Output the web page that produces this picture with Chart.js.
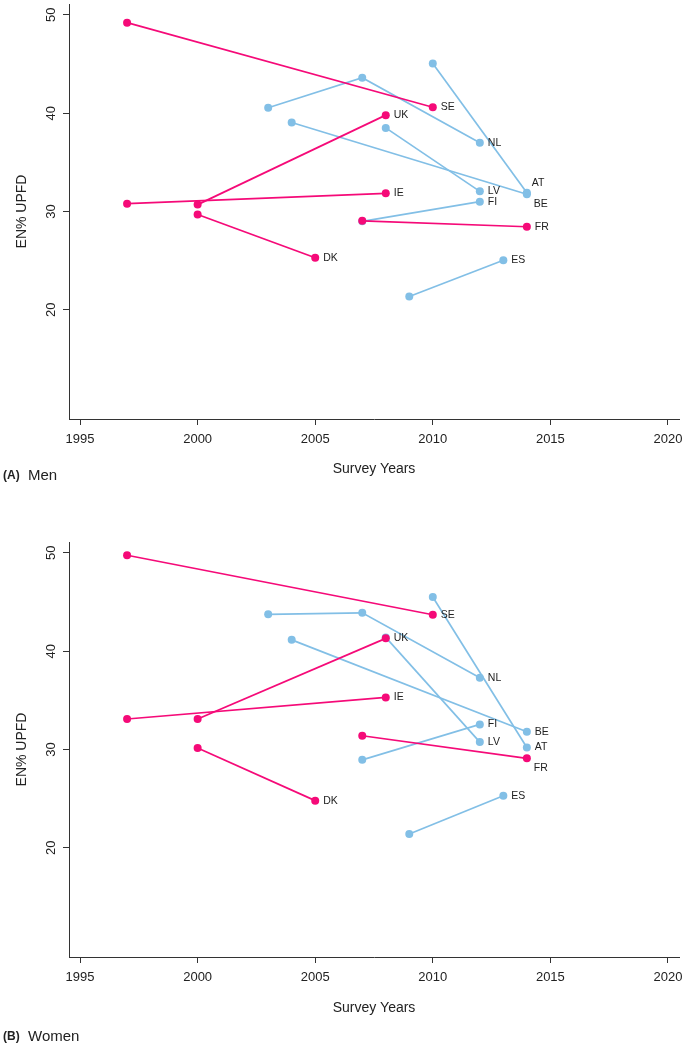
<!DOCTYPE html>
<html>
<head>
<meta charset="utf-8">
<script src="https://cdn.jsdelivr.net/npm/chart.js@4.4.1/dist/chart.umd.min.js"></script>
<style>
  body { margin: 0; background: #fff; width: 685px; height: 1045px; overflow: hidden; }
  .panel { position: absolute; left: 0; width: 685px; }
</style>
</head>
<body>
<div class="panel" style="top:0;height:520px"><canvas id="men"></canvas></div>
<div class="panel" style="top:520px;height:525px"><canvas id="women"></canvas></div>
<script>
// datos
const countries = ['SE', 'UK', 'IE', 'DK', 'FR', 'NL', 'AT', 'BE', 'LV', 'FI', 'ES'];
const pinkCountries = ['SE', 'UK', 'IE', 'DK', 'FR'];
const surveyYears = [
  [1997, 2010], [2000, 2008], [1997, 2008], [2000, 2005], [2007, 2014],
  [2003, 2007, 2012], [2010, 2014], [2004, 2014], [2008, 2012], [2007, 2012], [2009, 2013]
];
const menValues = [
  [49.2, 40.6], [30.7, 39.8], [30.8, 31.85], [29.7, 25.3], [29.05, 28.45],
  [40.55, 43.6, 37.0], [45.05, 31.9], [39.05, 31.75], [38.5, 32.05], [29.0, 31.0], [21.35, 25.05]
];
const womenValues = [
  [49.75, 43.7], [33.1, 41.3], [33.1, 35.3], [30.15, 24.8], [31.4, 29.1],
  [43.75, 43.9, 37.3], [45.5, 30.2], [41.15, 31.8], [41.4, 30.75], [28.95, 32.55], [21.4, 25.3]
];
const xTicks = [1995, 2000, 2005, 2010, 2015, 2020];
const yTicks = [20, 30, 40, 50];

const PINK = '#F50A78';
const BLUE = '#82BFE6';
const AXIS = '#333333';
const TEXT = '#222222';
const FONT = '"Liberation Sans", Arial, sans-serif';

// posicion de etiquetas que no van a la derecha
const menLabelPos = { AT: 'above', BE: 'below' };
const womenLabelPos = { FR: 'below' };

function buildDatasets(values) {
  return countries.map(function (c, i) {
    const color = pinkCountries.includes(c) ? PINK : BLUE;
    return {
      label: c,
      data: surveyYears[i].map(function (yr, j) { return { x: yr, y: values[i][j] }; }),
      borderColor: color,
      backgroundColor: color,
      borderWidth: 1.7,
      pointRadius: 4,
      pointBorderWidth: 0,
      pointBackgroundColor: color,
      tension: 0
    };
  });
}

const textPlugin = {
  id: 'texts',
  afterDatasetsDraw(chart, args, opts) {
    const ctx = chart.ctx;
    const a = chart.chartArea;
    const y = chart.scales.y;
    ctx.save();
    ctx.fillStyle = TEXT;

    // etiquetas del eje y, giradas
    ctx.font = '13px ' + FONT;
    ctx.textAlign = 'center';
    ctx.textBaseline = 'middle';
    yTicks.forEach(function (v) {
      ctx.save();
      ctx.translate(51, y.getPixelForValue(v));
      ctx.rotate(-Math.PI / 2);
      ctx.fillText(String(v), 0, 0);
      ctx.restore();
    });

    // titulo eje y
    ctx.font = '14px ' + FONT;
    ctx.save();
    ctx.translate(22, (a.top + a.bottom) / 2);
    ctx.rotate(-Math.PI / 2);
    ctx.fillText('EN% UPFD', 0, 0);
    ctx.restore();

    // titulo eje x
    ctx.fillText('Survey Years', (a.left + a.right) / 2, a.bottom + opts.xTitleGap);

    // etiqueta del panel
    ctx.textAlign = 'left';
    ctx.font = 'bold 12px ' + FONT;
    ctx.fillText(opts.tag, 3, opts.panelY);
    ctx.font = '15px ' + FONT;
    ctx.fillText(opts.name, 28, opts.panelY);

    // nombres de paises en el ultimo punto
    ctx.font = '10.5px ' + FONT;
    chart.data.datasets.forEach(function (ds, i) {
      const meta = chart.getDatasetMeta(i);
      const pt = meta.data[meta.data.length - 1];
      const pos = opts.labelPos[ds.label];
      if (pos === 'above') ctx.fillText(ds.label, pt.x + 5, pt.y - 10);
      else if (pos === 'below') ctx.fillText(ds.label, pt.x + 7, pt.y + 10);
      else ctx.fillText(ds.label, pt.x + 8, pt.y);
    });
    ctx.restore();
  }
};

function crearGrafica(id, values, extra) {
  return new Chart(document.getElementById(id), {
    type: 'line',
    data: { datasets: buildDatasets(values) },
    options: {
      responsive: true,
      maintainAspectRatio: false,
      animation: false,
      devicePixelRatio: 1,
      layout: { padding: { left: 0, right: 6, top: extra.top, bottom: 0 } },
      plugins: {
        legend: { display: false },
        tooltip: { enabled: false },
        texts: extra
      },
      scales: {
        x: {
          type: 'linear',
          min: 1994.53,
          max: 2020.47,
          afterBuildTicks: function (s) { s.ticks = xTicks.map(function (v) { return { value: v }; }); },
          afterFit: function (s) { s.height = extra.xHeight; s.paddingLeft = 0; s.paddingRight = 0; },
          ticks: {
            color: TEXT, font: { size: 13, family: FONT }, padding: 7, maxRotation: 0, autoSkip: false,
            callback: function (v) { return String(v); }
          },
          grid: { drawOnChartArea: false, drawTicks: true, tickLength: 6, color: AXIS, lineWidth: 1 },
          border: { display: true, color: AXIS, width: 1 }
        },
        y: {
          type: 'linear',
          min: 8.9,
          max: 51.1,
          afterBuildTicks: function (s) { s.ticks = yTicks.map(function (v) { return { value: v }; }); },
          afterFit: function (s) { s.width = 69; },
          ticks: { display: false },
          grid: { drawOnChartArea: false, drawTicks: true, tickLength: 6, color: AXIS, lineWidth: 1 },
          border: { display: true, color: AXIS, width: 1 }
        }
      }
    },
    plugins: [textPlugin]
  });
}

window.addEventListener('load', function () {
  crearGrafica('men', menValues, {
    top: 2, xHeight: 101, xTitleGap: 50, panelY: 476, tag: '(A)', name: 'Men', labelPos: menLabelPos
  });
  crearGrafica('women', womenValues, {
    top: 22, xHeight: 88, xTitleGap: 51, panelY: 517, tag: '(B)', name: 'Women', labelPos: womenLabelPos
  });
});
</script>
</body>
</html>
